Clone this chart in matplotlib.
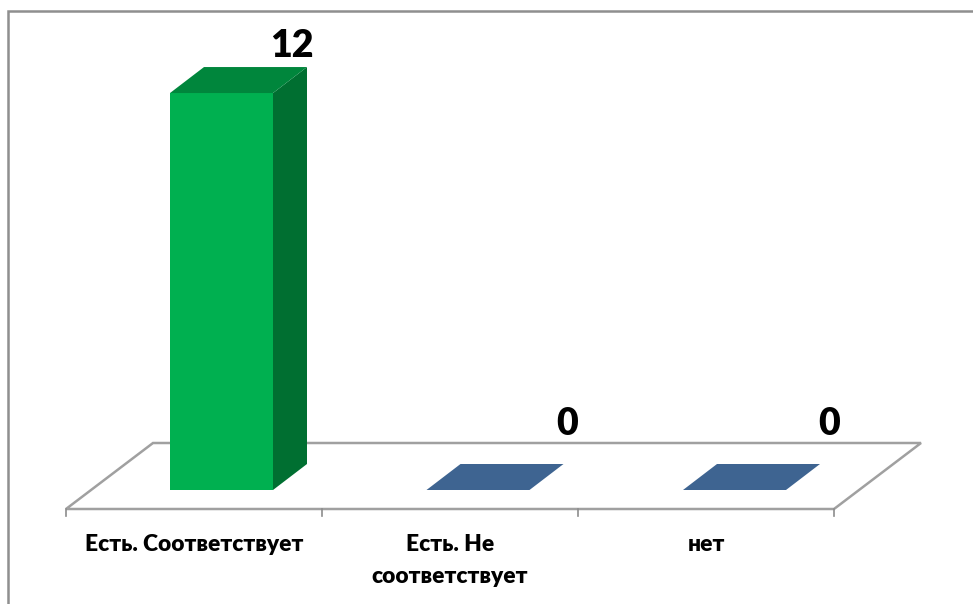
import matplotlib
matplotlib.use('Agg')
import matplotlib.pyplot as plt
from matplotlib.patches import Polygon, Rectangle

# data
categories = ['Есть. Соответствует', 'Есть. Не\nсоответствует', 'нет']
values = [12, 0, 0]
bar_colors = ['#00b050', '#3e6491', '#3e6491']
top_colors = ['#00863c', '#3e6491', '#3e6491']
side_colors = ['#006f31', '#3e6491', '#3e6491']

# label shift from the bar's right edge, px
label_shift_x = [19, 38, 43]
label_shift_y = [36, 55, 55]

W, H = 973, 604
plt.rcParams['font.family'] = ['Lato', 'Open Sans', 'DejaVu Sans']

fig = plt.figure(figsize=(W / 100, H / 100), dpi=100)
ax = fig.add_axes([0, 0, 1, 1])
ax.set_axis_off()

# one category = 256 px, one unit of value = 33.08 px, zero at y=490 px
px_x = 256.0
px_y = 33.08
ax.set_xlim(-66 / px_x, (W - 66) / px_x)
ax.set_ylim(-(H - 490) / px_y, 490 / px_y)

def dx(p):
    return p / px_x

def dy(p):
    return p / px_y

# frame of the chart
ax.add_patch(Rectangle((dx(7.5 - 66), dy(490 - 650)), dx(1100), dy(650 - 11),
                       fc='white', ec='#8f8f8f', lw=1.8, zorder=0))

# floor
floor = [(0, dy(-19)), (3, dy(-19)), (3 + dx(87), dy(47)), (dx(87), dy(47))]
ax.add_patch(Polygon(floor, closed=True, fc='white', ec='#a0a0a0', lw=1.8, zorder=1))
for i in range(4):
    ax.plot([i, i], [dy(-19), dy(-26)], color='#8c8c8c', lw=1.2, zorder=1)

# bars
bar_w = dx(103)
depth_x = dx(34)
depth_y = dy(26)
for i, v in enumerate(values):
    x0 = i + dx(104) + dx(0.5) * i
    x1 = x0 + bar_w
    if v > 0:
        ax.add_patch(Polygon([(x1, 0), (x1 + depth_x, depth_y), (x1 + depth_x, v + depth_y), (x1, v)],
                             closed=True, fc=side_colors[i], ec='none', zorder=3))
        ax.add_patch(Rectangle((x0, 0), bar_w, v, fc=bar_colors[i], ec='none', zorder=3))
    ax.add_patch(Polygon([(x0, v), (x1, v), (x1 + depth_x, v + depth_y), (x0 + depth_x, v + depth_y)],
                         closed=True, fc=top_colors[i], ec='none', zorder=3))
    ax.text(x1 + dx(label_shift_x[i]), v + dy(label_shift_y[i]), str(v), ha='center', va='baseline',
            fontsize=27, fontweight='heavy', color='black', zorder=4)

# category labels
for i, c in enumerate(categories):
    for j, line in enumerate(c.split('\n')):
        ax.text(i + 0.5, dy(-61 - 32 * j), line, ha='center', va='baseline', fontsize=16.4,
                fontweight='heavy', color='black')

fig.savefig('out.png', dpi=100)
